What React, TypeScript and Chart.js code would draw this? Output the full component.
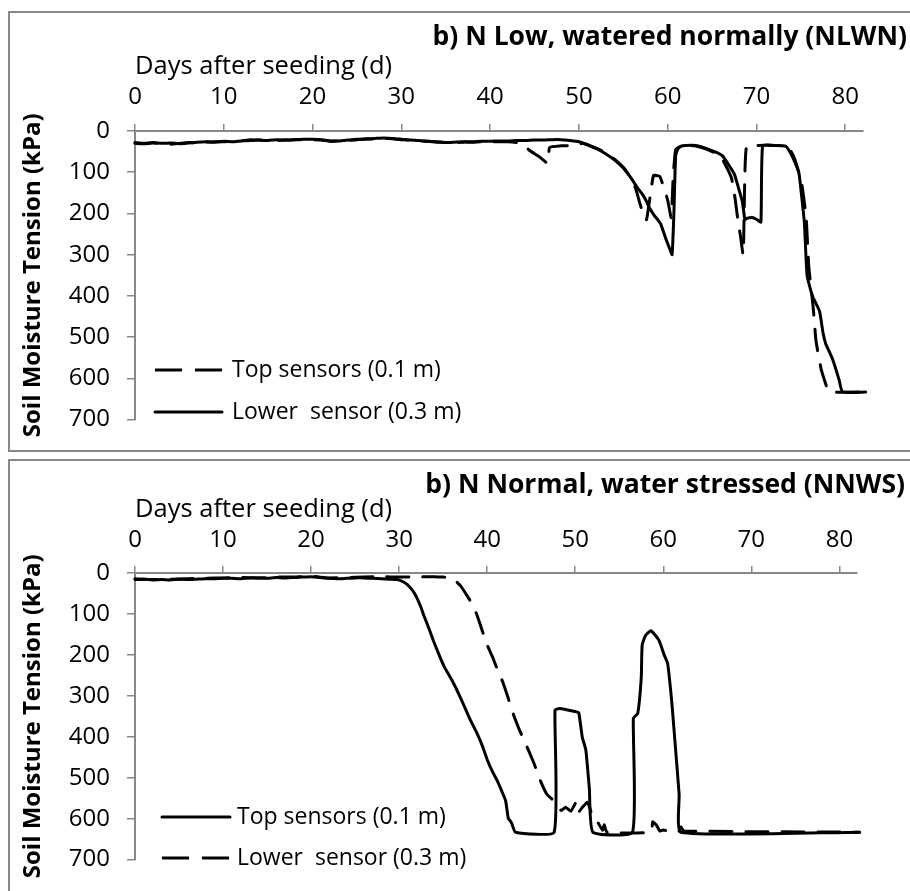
import React, { useEffect, useRef } from 'react';
import { Chart, registerables } from 'chart.js';

Chart.register(...registerables);

// ---------- shared tick values ----------
const xTickValues = [0, 10, 20, 30, 40, 50, 60, 70, 80];
const yTickValues = [0, 100, 200, 300, 400, 500, 600, 700];

// ---------- Panel 1: N Low, watered normally (NLWN) ----------
const nlwnTitle = 'b) N Low, watered normally (NLWN)';
const nlwnTopLabel = 'Top sensors (0.1 m)';
const nlwnLowerLabel = 'Lower  sensor (0.3 m)';

const nlwnTopDays = [
  0, 1, 2, 3, 4, 5, 6, 7, 8, 9, 10, 11, 12, 13, 14, 15, 16, 17, 18, 19, 20, 21, 22, 23, 24, 25, 26, 27, 28, 29,
  30, 31, 32, 33, 34, 35, 36, 37, 38, 39, 40, 41, 42, 43.5, 44.5, 45.5, 46.5, 46.7, 48, 49.3, 50.5, 51.5, 53, 54,
  55, 55.8, 56.4, 57, 57.6, 58.4, 59.1, 59.6, 60, 60.4, 60.6, 60.9, 61.5, 63, 64.5, 65.5, 66.2, 66.8, 67.2, 67.6,
  67.9, 68.2, 68.5, 68.6, 68.7, 68.9, 70, 72, 73.5, 74.2, 74.7, 75.1, 75.6, 75.9, 76.4, 76.7, 77.3, 78, 78.3, 82.3,
];
const nlwnTopKpa = [
  30, 31, 29, 31, 32, 30, 28, 29, 27, 26, 26, 25, 24, 23, 22, 24, 23, 22, 21, 21, 21, 22, 25, 24, 23, 21, 20, 19, 18, 19,
  21, 22, 24, 25, 27, 28, 28, 27, 27, 26, 26, 26, 26, 30, 48, 62, 78, 40, 36, 35, 30, 38, 52, 68,
  88, 112, 140, 185, 216, 108, 110, 140, 168, 210, 120, 45, 37, 36, 45, 55, 70, 95, 115, 165,
  215, 255, 300, 215, 100, 37, 35, 35, 37, 62, 95, 128, 211, 330, 430, 508, 579, 626, 633, 633,
];

const nlwnLowerDays = [
  0, 1, 2, 3, 4, 5, 6, 7, 8, 9, 10, 11, 12, 13, 14, 15, 16, 17, 18, 19, 20, 21, 22, 23, 24, 25, 26, 27, 28, 29,
  30, 31, 32, 33, 34, 35, 36, 37, 38, 39, 40, 41, 42, 43, 44, 45, 46, 47, 48, 49, 50, 51, 52, 53, 54, 55, 56,
  56.5, 57.2, 57.6, 57.9, 58.5, 59.2, 59.8, 60.3, 60.5, 60.7, 60.9, 61.2, 61.5, 62, 63.2, 64, 64.7, 65.5, 66.2,
  66.8, 67.5, 68, 68.4, 68.7, 68.9, 69.5, 70, 70.5, 70.7, 72, 73.3, 74, 74.5, 74.8, 75.1, 75.4, 75.7, 76.3, 77.1,
  77.5, 77.8, 78.3, 78.6, 79.3, 79.7, 82.3,
];
const nlwnLowerKpa = [
  28, 30, 28, 30, 29, 31, 29, 27, 26, 27, 25, 26, 24, 21, 22, 23, 21, 22, 21, 20, 20, 21, 24, 24, 22, 20, 19, 18, 17, 18,
  20, 22, 23, 25, 26, 28, 27, 26, 26, 25, 25, 24, 24, 23, 23, 22, 22, 21, 21, 23, 26, 34, 43, 55, 70, 90, 118,
  135, 155, 170, 185, 205, 225, 262, 290, 300, 200, 60, 42, 37, 35, 35, 40, 45, 52, 61,
  80, 104, 140, 170, 215, 212, 210, 214, 221, 35, 35, 37, 60, 85, 104, 160, 223, 350, 400, 437,
  490, 516, 540, 555, 603, 633, 633,
];

// ---------- Panel 2: N Normal, water stressed (NNWS) ----------
const nnwsTitle = 'b) N Normal, water stressed (NNWS)';
const nnwsTopLabel = 'Top sensors (0.1 m)';
const nnwsLowerLabel = 'Lower  sensor (0.3 m)';

const nnwsTopDays = [
  0, 1, 2, 3, 4, 5, 6, 7, 8, 9, 10, 11, 12, 13, 14, 15, 16, 17, 18, 19, 20, 21, 22, 23, 24, 25, 26, 27, 28, 29,
  29.8, 30.5, 30.9, 31.5, 32, 32.5, 32.8, 33.2, 33.9, 34.5, 35.1, 36, 37, 38, 38.9, 39.5, 40, 40.6, 41.2, 41.7,
  42.1, 42.4, 42.6, 42.8, 43.2, 47.6, 47.7, 48.2, 49, 50.1, 50.4, 50.8, 51.2, 51.6, 52, 56.5, 56.6, 57.1, 57.5,
  57.6, 58, 58.6, 59.5, 60.1, 60.5, 61, 61.4, 61.8, 62, 82.3,
];
const nnwsTopKpa = [
  16, 15, 17, 16, 17, 15, 16, 15, 14, 14, 13, 13, 14, 12, 12, 13, 11, 12, 11, 10, 9, 11, 13, 14, 13, 12, 12, 13, 14, 15,
  16, 22, 28, 42, 60, 85, 104, 125, 166, 198, 228, 262, 306, 355, 394, 425, 456, 485, 510, 535,
  557, 600, 605, 612, 633, 633, 335, 331, 334, 339, 341, 401, 432, 526, 633, 633, 355, 343, 254,
  176, 152, 141, 164, 200, 222, 324, 432, 541, 633, 633,
];

const nnwsLowerDays = [
  0, 2, 4, 6, 8, 10, 12, 14, 16, 18, 20, 22, 24, 26, 28, 30, 32, 34, 35, 36, 37, 37.7, 38.4, 38.9, 39.5, 40,
  40.6, 41.2, 41.8, 42.3, 43, 43.6, 44.2, 45.3, 46.1, 46.8, 47.6, 48.4, 48.9, 49.5, 50.1, 50.3, 50.9, 51.4, 52,
  52.5, 53.1, 53.3, 53.6, 58.6, 58.8, 59.2, 59.6, 60, 61.7, 62, 62.3, 82.3,
];
const nnwsLowerKpa = [
  14, 16, 15, 14, 13, 12, 11, 12, 10, 10, 8, 12, 11, 10, 9, 10, 9, 9, 10, 12, 32, 55, 80, 106, 145, 176,
  205, 238, 268, 300, 347, 380, 409, 464, 510, 541, 557, 580, 572, 582, 560, 585, 570, 560, 596,
  607, 628, 615, 633, 633, 608, 615, 630, 628, 633, 620, 630, 633,
];

// ---------- styling / layout ----------
const FONT = "'Open Sans', sans-serif";
const AXIS_COLOR = '#878787';
const SOLID: number[] = [];
const DASHED = [22, 14];
const TICK_SIZE = 24;
const XTITLE_SIZE = 25.5;
const LEGEND_SIZE = 23;
const TITLE_SIZE = 26.5;
const YTITLE_SIZE = 24;

type PanelDef = {
  title: string;
  canvasHeight: number;
  xMax: number;
  padRight: number;
  padBottom: number;
  xAxisHeight: number;
  xTickPad: number;
  xTitlePad: number;
  titleRight: number;
  titleY: number;
  legendX1: number;
  legendX2: number;
  legendTextX: number;
  legendY: number[];
  series: { label: string; days: number[]; kpa: number[]; dash: number[] }[];
};

const panel1: PanelDef = {
  title: nlwnTitle,
  canvasHeight: 451,
  xMax: 82,
  padRight: 47,
  padBottom: 25,
  xAxisHeight: 131,
  xTickPad: 12.6,
  xTitlePad: 51.7,
  titleRight: 907,
  titleY: 37,
  legendX1: 155,
  legendX2: 222,
  legendTextX: 232,
  legendY: [370, 412],
  series: [
    { label: nlwnTopLabel, days: nlwnTopDays, kpa: nlwnTopKpa, dash: DASHED },
    { label: nlwnLowerLabel, days: nlwnLowerDays, kpa: nlwnLowerKpa, dash: SOLID },
  ],
};

const panel2: PanelDef = {
  title: nnwsTitle,
  canvasHeight: 440,
  xMax: 82,
  padRight: 53,
  padBottom: 18,
  xAxisHeight: 122,
  xTickPad: 11.6,
  xTitlePad: 43.7,
  titleRight: 905,
  titleY: 34,
  legendX1: 162,
  legendX2: 230,
  legendTextX: 237,
  legendY: [366, 407],
  series: [
    { label: nnwsTopLabel, days: nnwsTopDays, kpa: nnwsTopKpa, dash: SOLID },
    { label: nnwsLowerLabel, days: nnwsLowerDays, kpa: nnwsLowerKpa, dash: DASHED },
  ],
};

function overlayPlugin(p: PanelDef) {
  return {
    id: 'overlay',
    afterDraw(chart: any) {
      const ctx = chart.ctx as CanvasRenderingContext2D;
      ctx.save();
      ctx.fillStyle = '#000';
      ctx.font = `bold ${TITLE_SIZE}px ${FONT}`;
      ctx.textAlign = 'right';
      ctx.textBaseline = 'middle';
      ctx.fillText(p.title, p.titleRight, p.titleY);

      p.series.forEach((s, i) => {
        const y = p.legendY[i];
        ctx.beginPath();
        ctx.strokeStyle = '#000';
        ctx.lineWidth = 3;
        ctx.lineCap = s.dash.length ? 'butt' : 'round';
        ctx.setLineDash(s.dash.length ? [27, 13] : []);
        ctx.moveTo(p.legendX1, y);
        ctx.lineTo(p.legendX2, y);
        ctx.stroke();
        ctx.setLineDash([]);
        ctx.font = `${LEGEND_SIZE}px ${FONT}`;
        ctx.textAlign = 'left';
        ctx.textBaseline = 'middle';
        ctx.fillText(s.label, p.legendTextX, y);
      });
      ctx.restore();
    },
  };
}

function buildConfig(p: PanelDef): any {
  const tickFont = { family: FONT, size: TICK_SIZE };
  return {
    type: 'line',
    data: {
      datasets: p.series.map((s) => ({
        label: s.label,
        data: s.days.map((d, i) => ({ x: d, y: s.kpa[i] })),
        borderColor: '#000',
        borderWidth: 3,
        borderDash: s.dash,
        borderCapStyle: 'round',
        borderJoinStyle: 'round',
        pointRadius: 0,
        fill: false,
        tension: 0.15,
        clip: 6,
      })),
    },
    options: {
      responsive: false,
      animation: false,
      devicePixelRatio: 1,
      layout: { padding: { left: 0, top: 0, right: p.padRight, bottom: p.padBottom } },
      plugins: { legend: { display: false }, tooltip: { enabled: false }, title: { display: false } },
      scales: {
        x: {
          type: 'linear',
          position: 'top',
          min: 0,
          max: p.xMax,
          afterBuildTicks: (s: any) => {
            s.ticks = xTickValues.map((v) => ({ value: v }));
          },
          afterFit: (s: any) => {
            s.height = p.xAxisHeight;
          },
          grid: { drawOnChartArea: false, drawTicks: true, tickLength: 7, color: AXIS_COLOR, lineWidth: 1.5 },
          border: { display: true, color: AXIS_COLOR, width: 2 },
          ticks: { font: tickFont, color: '#000', padding: p.xTickPad, maxRotation: 0, autoSkip: false },
          title: {
            display: true,
            text: 'Days after seeding (d)',
            align: 'start',
            color: '#000',
            font: { family: FONT, size: XTITLE_SIZE },
            padding: { top: p.xTitlePad, bottom: 0 },
          },
        },
        y: {
          type: 'linear',
          reverse: true,
          min: 0,
          max: 700,
          afterBuildTicks: (s: any) => {
            s.ticks = yTickValues.map((v) => ({ value: v }));
          },
          afterFit: (s: any) => {
            s.width = 135;
          },
          grid: { drawOnChartArea: false, drawTicks: true, tickLength: 8, color: AXIS_COLOR, lineWidth: 1.5 },
          border: { display: true, color: AXIS_COLOR, width: 2 },
          ticks: { font: tickFont, color: '#000', padding: 17, autoSkip: false },
          title: {
            display: true,
            text: 'Soil Moisture Tension (kPa)',
            color: '#000',
            font: { family: FONT, size: YTITLE_SIZE, weight: 'bold' },
            padding: { top: 18.6, bottom: 0 },
          },
        },
      },
    },
    plugins: [overlayPlugin(p)],
  };
}

function Panel({ def, top }: { def: PanelDef; top: number }) {
  const ref = useRef<HTMLCanvasElement>(null);
  useEffect(() => {
    const chart = new Chart(ref.current as HTMLCanvasElement, buildConfig(def));
    return () => chart.destroy();
  }, [def]);
  return (
    <canvas
      ref={ref}
      width={910}
      height={def.canvasHeight}
      style={{ position: 'absolute', left: 0, top, width: 910, height: def.canvasHeight, display: 'block' }}
    />
  );
}

export default function App() {
  return (
    <div
      style={{
        position: 'fixed',
        left: 0,
        top: 0,
        width: 910,
        height: 891,
        overflow: 'hidden',
        background: '#fff',
      }}
    >
      <div
        style={{
          position: 'absolute',
          left: 8,
          top: 11,
          width: 930,
          height: 441,
          border: `2px solid ${AXIS_COLOR}`,
          boxSizing: 'border-box',
        }}
      />
      <div
        style={{
          position: 'absolute',
          left: 8,
          top: 459,
          width: 930,
          height: 460,
          border: `2px solid ${AXIS_COLOR}`,
          boxSizing: 'border-box',
        }}
      />
      <Panel def={panel1} top={0} />
      <Panel def={panel2} top={451} />
    </div>
  );
}
